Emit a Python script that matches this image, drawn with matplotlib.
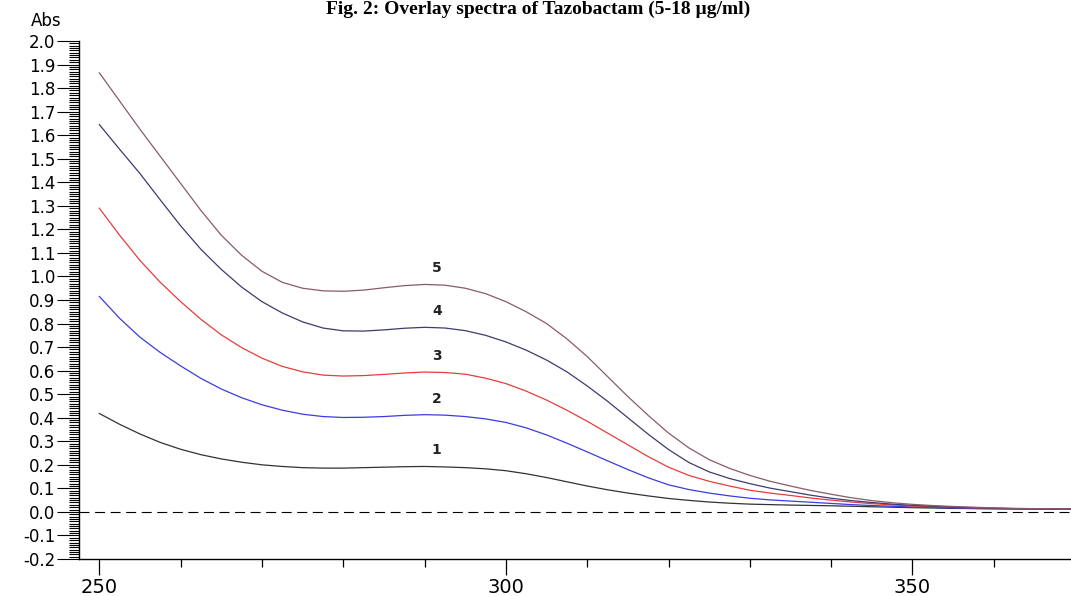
import numpy as np
import matplotlib.pyplot as plt
from matplotlib.ticker import MultipleLocator, FixedLocator

# wavelength grid [nm] (2.5 nm steps)
wavelength = [250, 252.5, 255, 257.5, 260, 262.5, 265, 267.5, 270, 272.5,
              275, 277.5, 280, 282.5, 285, 287.5, 290, 292.5, 295, 297.5,
              300, 302.5, 305, 307.5, 310, 312.5, 315, 317.5, 320, 322.5,
              325, 327.5, 330, 332.5, 335, 337.5, 340, 342.5, 345, 347.5,
              350, 352.5, 355, 357.5, 360, 362.5, 365, 367.5, 370]

# absorbance of each standard (1 = lowest concentration)
abs_1 = [0.418, 0.372, 0.331, 0.295, 0.266, 0.243, 0.225, 0.211, 0.200, 0.193,
         0.188, 0.186, 0.186, 0.188, 0.190, 0.192, 0.193, 0.191, 0.188, 0.183,
         0.175, 0.162, 0.146, 0.128, 0.110, 0.094, 0.080, 0.068, 0.057, 0.049,
         0.042, 0.037, 0.033, 0.031, 0.029, 0.0275, 0.026, 0.024, 0.022, 0.020,
         0.018, 0.0165, 0.015, 0.014, 0.013, 0.0125, 0.012, 0.0115, 0.011]
abs_2 = [0.915, 0.822, 0.742, 0.677, 0.620, 0.567, 0.522, 0.485, 0.455, 0.432,
         0.415, 0.405, 0.401, 0.402, 0.405, 0.410, 0.413, 0.411, 0.405, 0.395,
         0.380, 0.357, 0.327, 0.292, 0.255, 0.217, 0.180, 0.145, 0.115, 0.095,
         0.080, 0.068, 0.058, 0.051, 0.046, 0.041, 0.036, 0.031, 0.027, 0.024,
         0.021, 0.019, 0.017, 0.015, 0.014, 0.013, 0.012, 0.0115, 0.011]
abs_3 = [1.290, 1.175, 1.068, 0.975, 0.893, 0.818, 0.752, 0.698, 0.653, 0.618,
         0.595, 0.581, 0.577, 0.579, 0.584, 0.590, 0.594, 0.592, 0.585, 0.568,
         0.545, 0.513, 0.475, 0.432, 0.385, 0.335, 0.285, 0.235, 0.190, 0.155,
         0.130, 0.110, 0.092, 0.080, 0.070, 0.059, 0.050, 0.042, 0.035, 0.030,
         0.025, 0.022, 0.019, 0.017, 0.015, 0.014, 0.013, 0.0125, 0.012]
abs_4 = [1.645, 1.540, 1.437, 1.325, 1.215, 1.115, 1.030, 0.955, 0.893, 0.845,
         0.807, 0.781, 0.769, 0.768, 0.773, 0.780, 0.784, 0.781, 0.770, 0.750,
         0.722, 0.687, 0.645, 0.595, 0.535, 0.470, 0.400, 0.330, 0.265, 0.210,
         0.170, 0.142, 0.120, 0.101, 0.086, 0.071, 0.058, 0.048, 0.040, 0.033,
         0.028, 0.024, 0.020, 0.018, 0.016, 0.014, 0.013, 0.0125, 0.012]
abs_5 = [1.865, 1.745, 1.625, 1.510, 1.395, 1.280, 1.175, 1.090, 1.022, 0.975,
         0.950, 0.939, 0.937, 0.942, 0.952, 0.961, 0.966, 0.963, 0.950, 0.927,
         0.893, 0.850, 0.800, 0.735, 0.660, 0.575, 0.490, 0.410, 0.335, 0.272,
         0.222, 0.185, 0.155, 0.130, 0.110, 0.091, 0.075, 0.060, 0.048, 0.039,
         0.032, 0.027, 0.023, 0.020, 0.017, 0.015, 0.014, 0.013, 0.012]

curve_labels = ["1", "2", "3", "4", "5"]
curve_colors = ["#333333", "#3c3ce0", "#e83c3c", "#3c3c6e", "#8a5a68"]

x_major = [250, 300, 350]
x_minor = [260, 270, 280, 290, 310, 320, 330, 340, 360, 370]

fig = plt.figure(figsize=(10.71, 5.96), dpi=100)
ax = fig.add_axes([79 / 1071, 37 / 596, 1 - 79 / 1071, 518 / 596])

series = [abs_1, abs_2, abs_3, abs_4, abs_5]
i_peak = wavelength.index(290)
for vals, lab, col in zip(series, curve_labels, curve_colors):
    ax.plot(wavelength, vals, color=col, lw=0.9)
    # number label just above the 290 nm maximum
    ax.text(291.5, vals[i_peak] + 0.068, lab, ha="center", va="center",
            fontsize=10, fontweight="bold", color="#222222")

ax.axhline(0, color="black", lw=0.8, dashes=(9, 5))

ax.set_xlim(247.5, 369.5)
ax.set_ylim(-0.2, 2.0)

# ticks
ax.xaxis.set_major_locator(FixedLocator(x_major))
ax.xaxis.set_minor_locator(FixedLocator(x_minor))
ax.yaxis.set_major_locator(MultipleLocator(0.1))
ax.yaxis.set_minor_locator(MultipleLocator(0.01))
ax.yaxis.set_major_formatter(plt.FuncFormatter(lambda v, p: f"{v:.1f}"))

ax.tick_params(axis="x", which="major", direction="out", length=11.5,
               width=0.9, pad=2, labelsize=14)
ax.tick_params(axis="x", which="minor", direction="out", length=5.5, width=0.9)
ax.tick_params(axis="y", which="major", direction="out", length=16,
               width=0.8, pad=1, labelsize=12)
ax.tick_params(axis="y", which="minor", direction="out", length=7, width=0.8)

for s in ["top", "right"]:
    ax.spines[s].set_visible(False)
ax.spines["left"].set_linewidth(1.0)
ax.spines["bottom"].set_linewidth(1.0)

fig.text(46 / 1071, 1 - 21 / 596, "Abs", ha="center", va="center", fontsize=12)
fig.text(0.502, 1 - 14 / 596, "Fig. 2: Overlay spectra of Tazobactam (5-18 \u00b5g/ml)",
         ha="center", va="baseline", fontsize=14, fontweight="bold",
         family="Liberation Serif")

fig.savefig("out.png", dpi=100)
